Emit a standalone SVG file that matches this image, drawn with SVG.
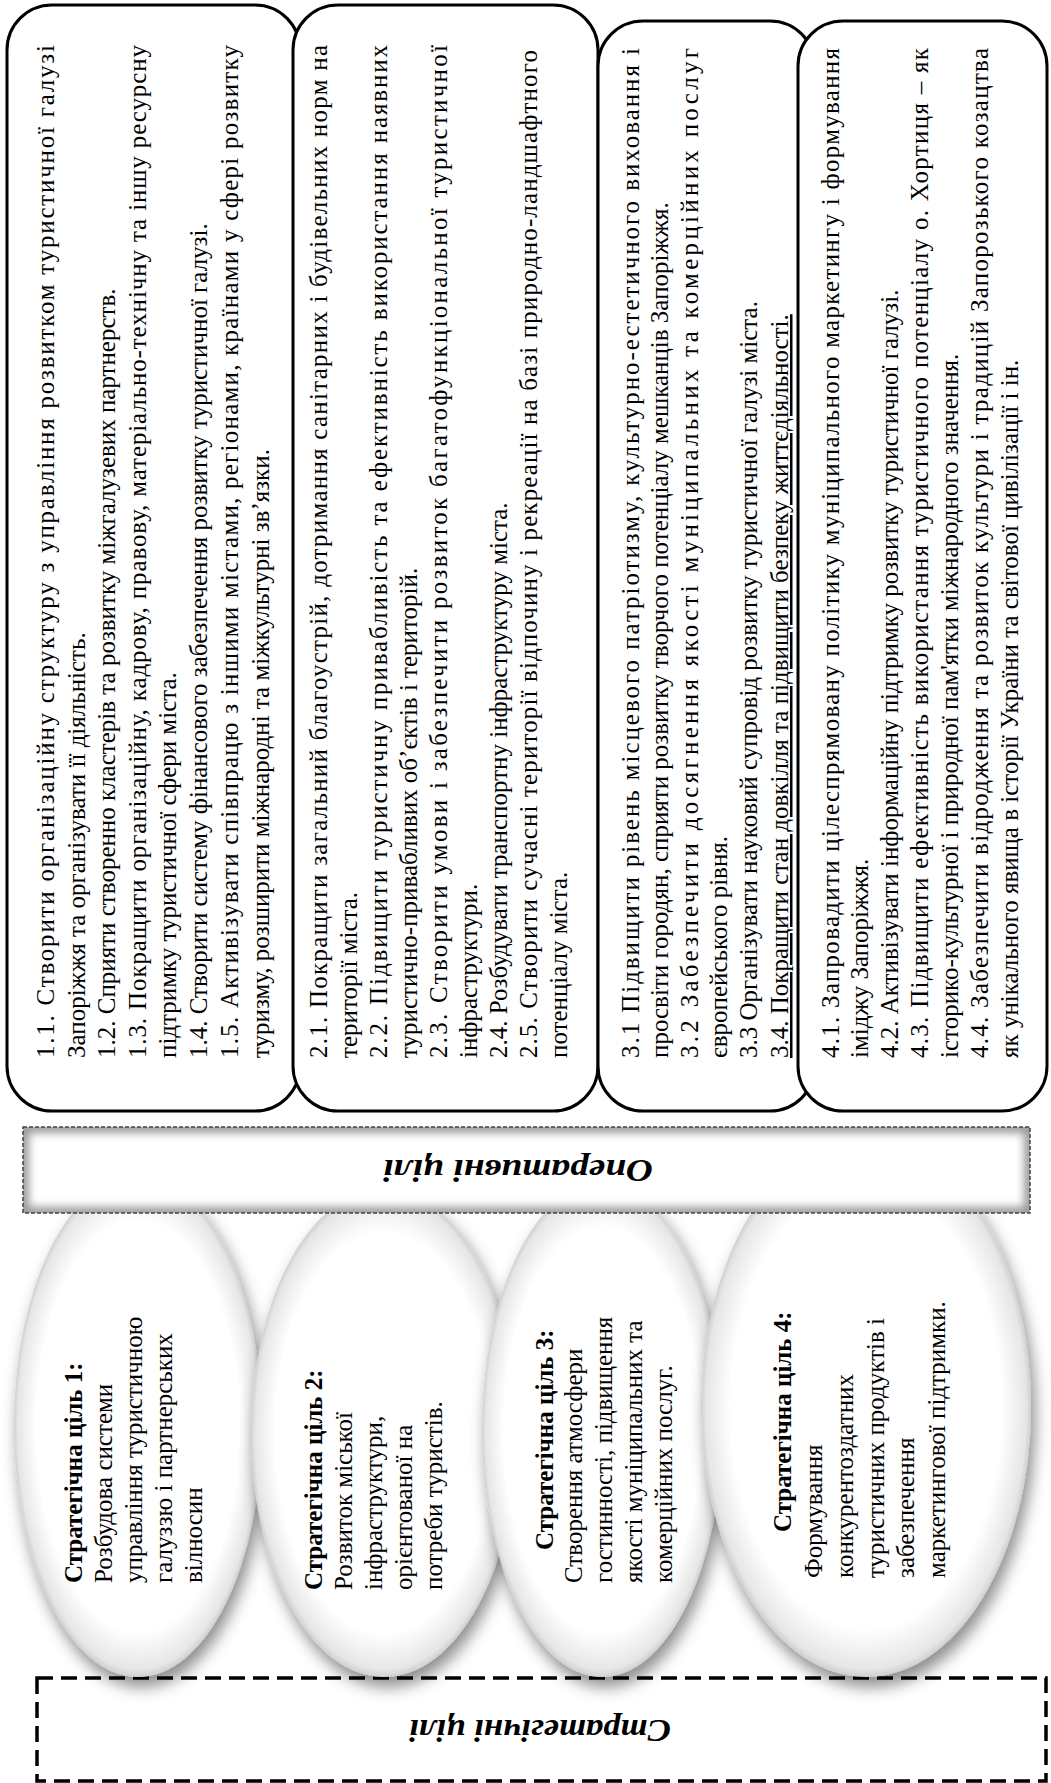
<svg xmlns="http://www.w3.org/2000/svg" width="1051" height="1783" viewBox="0 0 1051 1783">
<style>
.box{fill:#fff;stroke:#000;stroke-width:3}
.bt{font-family:"Liberation Serif","Times New Roman",serif;font-size:25px;fill:#000}
.et{font-family:"Liberation Serif","Times New Roman",serif;font-size:25px;fill:#000}
.b{font-weight:bold}
.lbl{font-family:"Liberation Serif","Times New Roman",serif;font-weight:bold;font-style:italic;font-size:32px;fill:#000}
</style>
<defs>
<radialGradient id="eg" cx="0.5" cy="0.5" r="0.5">
<stop offset="0.82" stop-color="#ffffff"/>
<stop offset="0.97" stop-color="#e6e6e6"/>
<stop offset="1" stop-color="#d0d0d0"/>
</radialGradient>
<filter id="esh" x="-20%" y="-10%" width="140%" height="125%">
<feDropShadow dx="4" dy="10" stdDeviation="8" flood-color="#000" flood-opacity="0.45"/>
</filter>
<filter id="blur4" x="-5%" y="-20%" width="110%" height="140%">
<feGaussianBlur stdDeviation="4"/>
</filter>
<clipPath id="bandclip"><rect x="23" y="1127" width="1007" height="86"/></clipPath>
</defs>

<g id="strategic-goals-frame">
<rect x="37" y="1678" width="1009" height="103" fill="#fff" stroke="#000" stroke-width="3.5" stroke-dasharray="16 8"/>
<text class="lbl" transform="translate(540,1730) rotate(180)" text-anchor="middle" y="10" textLength="262" lengthAdjust="spacingAndGlyphs">Стратегічні цілі</text>
</g>

<g id="goal1">
<ellipse cx="138" cy="1426" rx="124" ry="251" fill="url(#eg)" filter="url(#esh)"/>
<g class="et" transform="translate(0,1583) rotate(-90)">
<text class="b" x="0" y="82">Стратегічна ціль 1:</text>
<text x="0" y="112">Розбудова системи</text>
<text x="0" y="142">управління туристичною</text>
<text x="0" y="172">галуззю і партнерських</text>
<text x="0" y="202">вілносин</text>
</g>
</g>

<g id="goal2">
<ellipse cx="384" cy="1433" rx="133" ry="244" fill="url(#eg)" filter="url(#esh)"/>
<g class="et" transform="translate(0,1590) rotate(-90)">
<text class="b" x="0" y="322">Стратегічна ціль 2:</text>
<text x="0" y="352">Розвиток міської</text>
<text x="0" y="382">інфраструктури,</text>
<text x="0" y="412">орієнтованої на</text>
<text x="0" y="442">потреби туристів.</text>
</g>
</g>

<g id="goal3">
<ellipse cx="602" cy="1430" rx="120" ry="247" fill="url(#eg)" filter="url(#esh)"/>
<g class="et" transform="translate(0,1583) rotate(-90)">
<text class="b" x="33" y="553">Стратегічна ціль 3:</text>
<text x="0" y="582">Створення атмосфери</text>
<text x="0" y="612">гостинності, підвищення</text>
<text x="0" y="642">якості муніципальних та</text>
<text x="0" y="672">комерційних послуг.</text>
</g>
</g>

<g id="goal4">
<ellipse cx="866" cy="1407" rx="165" ry="270" fill="url(#eg)" filter="url(#esh)"/>
<g class="et" transform="translate(0,1578) rotate(-90)">
<text class="b" x="46" y="791">Стратегічна ціль 4:</text>
<text x="0" y="822">Формування</text>
<text x="0" y="853">конкурентоздатних</text>
<text x="0" y="884">туристичних продуктів і</text>
<text x="0" y="914">забезпечення</text>
<text x="0" y="945">маркетингової підтримки.</text>
</g>
</g>

<g id="operational-goals-band">
<rect x="23" y="1127" width="1007" height="86" fill="#fff"/>
<rect x="23" y="1127" width="1007" height="86" fill="none" stroke="#999" stroke-width="12" filter="url(#blur4)" clip-path="url(#bandclip)"/>
<rect x="23" y="1127" width="1007" height="86" fill="none" stroke="#444" stroke-width="1.5" stroke-dasharray="4 2"/>
<text class="lbl" transform="translate(518,1170) rotate(180)" text-anchor="middle" y="10" textLength="270" lengthAdjust="spacingAndGlyphs">Оперативні цілі</text>
</g>

<g id="box1">
<rect class="box" x="7" y="5" width="293" height="1106" rx="45" ry="45"/>
<g class="bt" transform="translate(0,1058) rotate(-90)">
<text x="0" y="54" textLength="1013" lengthAdjust="spacing">1.1. Створити організаційну структуру з управління розвитком туристичної галузі</text>
<text x="0" y="85">Запоріжжя та організувати її діяльність.</text>
<text x="0" y="115">1.2. Сприяти створенно кластерів та розвитку міжгалузевих партнерств.</text>
<text x="0" y="146" textLength="1013" lengthAdjust="spacing">1.3. Покращити організаційну, кадрову, правову, матеріально-технічну та іншу ресурсну</text>
<text x="0" y="176">підтримку туристичної сфери міста.</text>
<text x="0" y="207">1.4. Створити систему фінансового забезпечення розвитку туристичної галузі.</text>
<text x="0" y="238" textLength="1013" lengthAdjust="spacing">1.5. Активізувати співпрацю з іншими містами, регіонами, країнами у сфері розвитку</text>
<text x="0" y="269">туризму, розширити міжнародні та міжкультурні зв’язки.</text>
</g>
</g>

<g id="box2">
<rect class="box" x="293" y="5" width="305" height="1106" rx="45" ry="45"/>
<g class="bt" transform="translate(0,1058) rotate(-90)">
<text x="0" y="327" textLength="1013" lengthAdjust="spacing">2.1. Покращити загальний благоустрій, дотримання санітарних і будівельних норм на</text>
<text x="0" y="357">території міста.</text>
<text x="0" y="387" textLength="1013" lengthAdjust="spacing">2.2. Підвищити туристичну привабливість та ефективність використання наявних</text>
<text x="0" y="417">туристично-привабливих об’єктів і територій.</text>
<text x="0" y="447" textLength="1013" lengthAdjust="spacing">2.3. Створити умови і забезпечити розвиток багатофункціональної туристичної</text>
<text x="0" y="477">інфраструктури.</text>
<text x="0" y="507">2.4. Розбудувати транспортну інфраструктуру міста.</text>
<text x="0" y="537" textLength="1008" lengthAdjust="spacing">2.5. Створити сучасні території відпочину і рекреації на базі природно-ландшафтного</text>
<text x="0" y="567">потенціалу міста.</text>
</g>
</g>

<g id="box3">
<rect class="box" x="598" y="21" width="217" height="1090" rx="45" ry="45"/>
<g class="bt" transform="translate(0,1058) rotate(-90)">
<text x="0" y="639" textLength="1010" lengthAdjust="spacing">3.1 Підвищити рівень місцевого патріотизму, культурно-естетичного виховання і</text>
<text x="0" y="668">просвіти городян, сприяти розвитку творчого потенціалу мешканців Запоріжжя.</text>
<text x="0" y="698" textLength="1010" lengthAdjust="spacing">3.2 Забезпечити досягнення якості муніципальних та комерційних послуг</text>
<text x="0" y="727">європейського рівня.</text>
<text x="0" y="757">3.3 Організувати науковий супровід розвитку туристичної галузі міста.</text>
<text x="0" y="788" text-decoration="underline">3.4. Покращити стан довкілля та підвищити безпеку життєдіяльності.</text>
</g>
</g>

<g id="box4">
<rect class="box" x="798" y="21" width="249" height="1090" rx="45" ry="45"/>
<g class="bt" transform="translate(0,1058) rotate(-90)">
<text x="0" y="839" textLength="1010" lengthAdjust="spacing">4.1. Запровадити цілеспрямовану політику муніципального маркетингу і формування</text>
<text x="0" y="868">іміджу Запоріжжя.</text>
<text x="0" y="898">4.2. Активізувати інформаційну підтримку розвитку туристичної галузі.</text>
<text x="0" y="928" textLength="1010" lengthAdjust="spacing">4.3. Підвищити ефективність використання туристичного потенціалу о. Хортиця – як</text>
<text x="0" y="958">історико-культурної і природної пам'ятки міжнародного значення.</text>
<text x="0" y="988" textLength="1010" lengthAdjust="spacing">4.4. Забезпечити відродження та розвиток культури і традицій Запорозького козацтва</text>
<text x="0" y="1018">як унікального явища в історії України та світової цивілізації і ін.</text>
</g>
</g>

<g id="connectors"/>
</svg>
